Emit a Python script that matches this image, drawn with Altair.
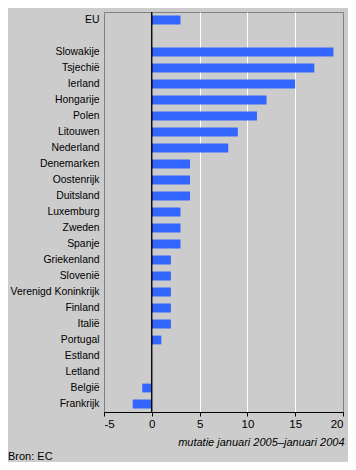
import altair as alt
import pandas as pd

countries = ["EU", "Slowakije", "Tsjechië", "Ierland", "Hongarije", "Polen", "Litouwen",
             "Nederland", "Denemarken", "Oostenrijk", "Duitsland", "Luxemburg", "Zweden",
             "Spanje", "Griekenland", "Slovenië", "Verenigd Koninkrijk", "Finland", "Italië",
             "Portugal", "Estland", "Letland", "België", "Frankrijk"]
values = [3, 19, 17, 15, 12, 11, 9, 8, 4, 4, 4, 3, 3, 3, 2, 2, 2, 2, 2, 1, 0, 0, -1, -2]
order = ["EU", " "] + countries[1:]
x_ticks = [-5, 0, 5, 10, 15, 20]

df = pd.DataFrame({"land": countries, "waarde": values})
FONT = "Liberation Sans"

bars = alt.Chart(df).mark_bar(color="#3366ff").encode(
    x=alt.X("waarde:Q",
            scale=alt.Scale(domain=[-5, 20], nice=False, zero=False),
            axis=alt.Axis(values=x_ticks, title="mutatie januari 2005\u2013januari 2004",
                          labelExpr="toString(datum.value)",
                          titleFontStyle="italic", titleFontWeight="normal", titleFontSize=11,
                          titleFont=FONT, titleColor="black", titleAlign="right",
                          titleAnchor="end", titleX=240, titleY=30, titleBaseline="middle",
                          labelFont=FONT, labelFontSize=11.5, labelColor="black", labelPadding=2,
                          tickColor="black", tickSize=4, domainColor="black",
                          gridColor=alt.ExprRef("datum.value == -5 || datum.value == 20 ? '#808080' : '#ffffff'"),
                          gridWidth=1, gridOpacity=1)),
    y=alt.Y("land:N", sort=order,
            scale=alt.Scale(domain=order, paddingInner=0.45, paddingOuter=0.225),
            axis=alt.Axis(title=None, ticks=False, domain=False, labelFont=FONT,
                          labelFontSize=10.4, labelColor="black", labelPadding=5,
                          labelLimit=200)),
)

zero = alt.Chart(pd.DataFrame({"x": [0]})).mark_rule(color="black", strokeWidth=1.5).encode(
    x=alt.X("x:Q", scale=alt.Scale(domain=[-5, 20], nice=False, zero=False))
)

source = alt.Chart(pd.DataFrame({"t": ["Bron: EC"]})).mark_text(
    align="left", baseline="middle", font=FONT, fontSize=11, color="black"
).encode(x=alt.value(-96), y=alt.value(445), text="t:N")

chart = alt.layer(bars, zero, source).properties(
    width=239, height=400,
    background="#cccccc",
    padding={"left": 96, "top": 4, "right": 5, "bottom": 50},
    autosize=alt.AutoSizeParams(type="none"),
).configure_view(stroke="#808080", strokeWidth=1, fill="#cccccc")

chart.save("out.html", embed_options={"renderer": "svg", "actions": False})
